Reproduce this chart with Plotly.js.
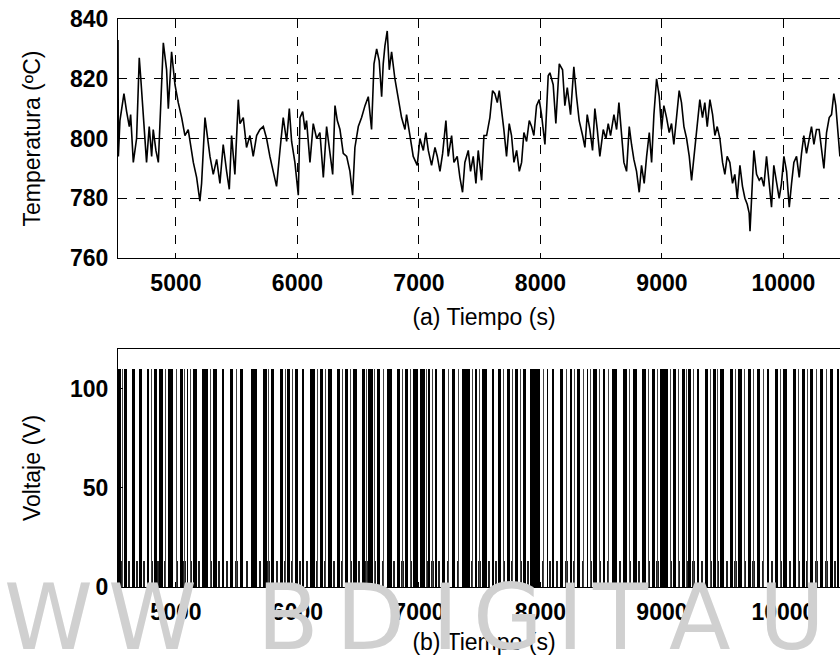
<!DOCTYPE html>
<html>
<head>
<meta charset="utf-8">
<script src="https://cdn.plot.ly/plotly-3.0.1.min.js"></script>
<style>
html,body{margin:0;padding:0;background:#fff;overflow:hidden;}
#chart{width:850px;height:657px;}
</style>
</head>
<body>
<div id="chart"></div>
<script>
// ---- (a) temperature ----
const tTemp = [4523,4526,4539,4572,4594,4616,4627,4649,4676,4698,4709,4731,4758,4780,4800,4813,4835,4855,4874,4896,4923,4937,4964,4992,5019,5047,5074,5101,5143,5170,5197,5211,5239,5266,5280,5307,5335,5362,5389,5417,5439,5458,5485,5513,5527,5554,5581,5609,5636,5664,5691,5719,5746,5773,5801,5828,5856,5883,5911,5933,5952,5979,6007,
6021,6043,6062,6075,6103,6130,6158,6185,6213,6240,6268,6290,6309,6328,6350,6377,6405,6432,6454,6473,6501,6528,6556,6583,6610,6630,6652,6673,6693,6706,6720,6739,6756,6775,6802,6830,6857,6885,6898,6926,6953,6986,7008,7036,7057,7077,7104,7132,7151,7173,7195,7222,7241,7269,7288,7315,7337,7359,7378,7406,7425,7447,7469,7488,7516,7535,7557,7584,7606,7625,7645,7661,7680,7699,7721,7743,7762,7782,7804,7826,7845,7864,7886,7908,7927,7946,7968,7990,8009,8037,8064,
8078,8105,8127,8155,8182,8201,8221,8248,8275,8297,8319,8347,8366,8385,8407,8429,8448,8468,8489,8517,8539,8558,8577,8605,8627,8646,8668,8687,8709,8731,8750,8769,8791,8813,8832,8854,8874,8896,8915,8934,8956,8978,8997,9016,9038,9060,9079,9098,9120,9142,9161,9181,9203,9225,9244,9263,9285,9312,9334,9353,9373,9395,9417,9436,9455,9477,9499,9518,9537,9559,9581,9600,9620,9642,9663,9683,9702,9718,9725,9757,9779,9801,9820,9839,9861,9883,9902,9921,9943,9965,9984,10004,10026,10048,10067,10086,10108,10130,10149,10168,10190,10212,10231,10251,10272,10294,10314,10333,10355,10377,10396,10415,10431,10451,10465];
const temp = [833,794,806,815,809,804,808,792,800,827,821,807,792,804,794,803,796,792,811,832,823,810,829,818,812,807,801,803,792,787,779,785,807,797,794,788,793,785,798,789,783,801,788,813,805,807,797,801,794,801,803,804,800,794,789,784,796,807,799,810,799,792,781,
807,809,803,806,792,805,800,802,787,804,794,788,811,806,803,795,794,789,781,797,804,807,811,814,803,825,830,826,814,825,831,836,823,829,820,814,807,803,808,801,794,791,800,796,802,796,791,797,794,789,795,806,794,801,792,794,787,782,792,796,789,794,785,796,786,801,801,807,816,815,812,816,810,803,794,805,801,792,796,789,792,802,799,806,804,801,811,813,808,798,821,
822,818,805,825,823,811,817,808,824,814,806,801,797,808,803,796,810,803,794,803,800,805,801,808,803,812,800,792,789,804,798,793,789,782,791,785,794,802,792,808,820,814,803,811,807,802,805,798,807,816,812,804,800,794,786,794,801,813,807,812,804,813,808,801,804,800,792,788,794,792,785,788,780,791,784,780,778,775,769,796,788,786,787,784,794,784,777,791,786,780,785,794,789,777,785,792,794,787,795,801,795,800,804,798,803,803,797,790,802,807,808,815,811,801,794];

// ---- (b) voltage: wide pulses to 110 V (start, duration in s) ----
const pulseStart = [4523,4572,4635,4698,4759,4819,4863,4932,5033,5088,5143,5211,5307,5376,5445,5527,5615,5719,5779,5856,5916,5979,6034,6103,6185,6254,6322,6391,6460,6528,6583,6652,6734,6816,6885,6953,
7009,7077,7132,7187,7269,7351,7461,7516,7598,7653,7722,7790,7859,7914,8051,8092,8161,8243,8298,8380,8435,8517,8586,8682,8764,8833,8915,8984,9093,9162,9217,9285,9354,9422,9477,9560,9628,9710,9779,9861,9930,9999,10081,10149,10218,10300,10382,10440];
const pulseWidth = [22,22,27,19,22,22,27,47,22,14,27,55,27,22,27,27,49,27,27,27,22,27,19,41,22,27,27,27,27,27,36,27,41,27,27,41,
41,14,14,27,27,69,19,41,19,19,27,27,22,82,14,19,27,16,27,14,27,14,41,27,27,36,27,69,22,27,19,22,27,22,33,22,27,19,27,22,27,27,22,27,27,27,27,20];
// short pulses seen as thin lines between the wide ones (centre time in s)
const thinPulse = [4558,4614,4680,4738,4800,4852,4911,5006,5071,5122,5190,5286,5355,5421,5499,5584,5691,5762,5831,5899,5958,6020,6078,6164,6230,6301,6370,6439,6507,6569,6635,6706,6795,6864,6932,
7063,7111,7166,7241,7323,7440,7498,7577,7635,7697,7769,7838,7897,8023,8078,8136,8215,8278,8352,8414,8489,8558,8654,8736,8812,8892,8963,9073,9138,9203,9260,9330,9401,9460,9535,9605,9682,9754,9833,9906,9978,10053,10126,10197,10272,10354,10424,10480];
const pulseLevel = 110;
const lowLevel = 13;

const xTickVals = [5000,6000,7000,8000,9000,10000];
const xRange = [4523, 10548];

// watermark letters (text only)
const wmLetters = ['W','W','B','D','I','G','I','T','A','U','N'];
const wmPos = [48,152,288,370,445,508,570,620,700,792,870];

const pulseCenters = pulseStart.map((s,i)=>s+pulseWidth[i]/2);
const pulseLevels = pulseStart.map(()=>pulseLevel);

const tickFont = {family:'Liberation Sans, Arial, sans-serif', size:23, color:'#000', weight:'bold'};
const titleFont = {family:'Liberation Sans, Arial, sans-serif', size:23, color:'#000'};

const traces = [
  {x:tTemp, y:temp, type:'scatter', mode:'lines', line:{color:'#000', width:1.6}, xaxis:'x', yaxis:'y', hoverinfo:'skip'},
  {x:thinPulse, y:thinPulse.map(()=>lowLevel), width:thinPulse.map(()=>18), type:'bar', marker:{color:'#222', line:{width:0}}, xaxis:'x2', yaxis:'y2', hoverinfo:'skip'},
  {x:thinPulse, y:thinPulse.map(()=>pulseLevel), width:thinPulse.map(()=>6), type:'bar', marker:{color:'#444', line:{width:0}}, xaxis:'x2', yaxis:'y2', hoverinfo:'skip'},
  {x:pulseCenters, y:pulseLevels, width:pulseWidth, type:'bar', marker:{color:'#000', line:{width:0}}, xaxis:'x2', yaxis:'y2', hoverinfo:'skip'}
];

const axCommon = {
  showline:true, linecolor:'#000', linewidth:1, mirror:true,
  ticks:'inside', ticklen:5, tickcolor:'#000', tickfont:tickFont, zeroline:false
};

const W = 850;
const annotations = wmLetters.map((ch,i)=>({
  text:ch, xref:'paper', yref:'paper', x:(wmPos[i]-118)/(W-118), y:-0.15,
  xanchor:'center', yanchor:'bottom', showarrow:false,
  font:{family:'DejaVu Sans, Liberation Sans, sans-serif', size:90, color:'#d0d0d0'}
}));

const layout = {
  width:W, height:657,
  margin:{l:118, r:0, t:19, b:70},
  paper_bgcolor:'#fff', plot_bgcolor:'#fff',
  showlegend:false, bargap:0, barmode:'overlay',
  xaxis: Object.assign({}, axCommon, {
    domain:[0,1], anchor:'y', range:xRange, tickvals:xTickVals, ticktext:xTickVals.map(String),
    showgrid:true, gridcolor:'#000', griddash:'dash', gridwidth:1, ticklabelstandoff:4,
    title:{text:'(a) Tiempo (s)', font:titleFont, standoff:14}
  }),
  yaxis: Object.assign({}, axCommon, {
    domain:[0.5792,1], anchor:'x', range:[760,840], tickvals:[760,780,800,820,840],
    showgrid:true, gridcolor:'#000', griddash:'dash', gridwidth:1, ticklabelstandoff:4,
    title:{text:'Temperatura (ºC)', font:titleFont, standoff:22}
  }),
  xaxis2: Object.assign({}, axCommon, {
    domain:[0,1], anchor:'y2', range:xRange, tickvals:xTickVals, ticktext:xTickVals.map(String),
    showgrid:false, ticklabelstandoff:4,
    title:{text:'(b) Tiempo (s)', font:titleFont, standoff:10}
  }),
  yaxis2: Object.assign({}, axCommon, {
    domain:[0,0.419], anchor:'x2', range:[0,120], tickvals:[0,50,100],
    showgrid:false, ticklabelstandoff:4,
    title:{text:'Voltaje (V)', font:titleFont, standoff:22}
  }),
  annotations: annotations
};

Plotly.newPlot('chart', traces, layout, {staticPlot:true, displayModeBar:false});
</script>
</body>
</html>
